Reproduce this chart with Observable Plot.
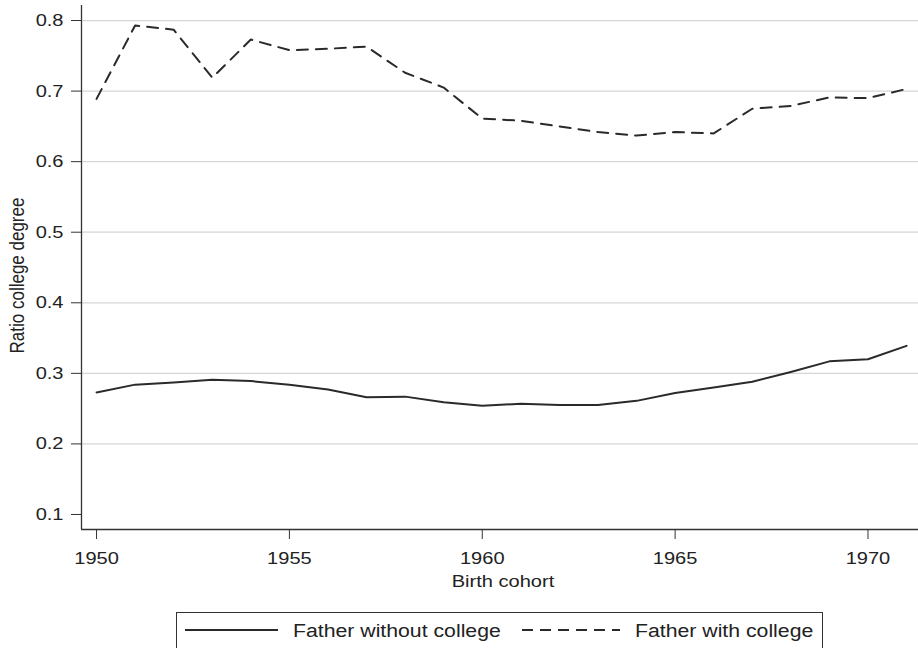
<!DOCTYPE html>
<html>
<head>
<meta charset="utf-8">
<script src="https://cdn.jsdelivr.net/npm/d3@7"></script>
<script src="https://cdn.jsdelivr.net/npm/@observablehq/plot@0.6"></script>
<style>
  html, body { margin: 0; padding: 0; background: #fff; }
  body { width: 918px; height: 648px; overflow: hidden; font-family: "Liberation Sans", Arial, Helvetica, sans-serif; }
  #legend {
    position: relative;
    margin-left: 176px; margin-top: 22px; width: 647px; height: 44px;
    border: 1px solid #333; box-sizing: border-box; color: #222;
  }
  #legend svg { position: absolute; display: block; }
  #legend span {
    position: absolute; display: inline-block; white-space: nowrap;
    font-size: 18px; line-height: 20px; transform: scaleX(1.18); transform-origin: 0 50%;
  }
</style>
</head>
<body>
<div id="chart"></div>
<div id="legend"></div>
<script>
const years = [1950,1951,1952,1953,1954,1955,1956,1957,1958,1959,1960,1961,1962,1963,1964,1965,1966,1967,1968,1969,1970,1971];
const withoutCollege = [0.273,0.284,0.287,0.291,0.289,0.284,0.277,0.266,0.267,0.259,0.254,0.257,0.255,0.255,0.261,0.272,0.280,0.288,0.302,0.317,0.320,0.339];
const withCollege = [0.689,0.793,0.787,0.719,0.773,0.758,0.760,0.763,0.726,0.705,0.661,0.658,0.650,0.642,0.637,0.642,0.640,0.675,0.679,0.691,0.690,0.703];
const seriesNames = ["Father without college", "Father with college"];
const xTicks = [1950, 1955, 1960, 1965, 1970];
const yTicks = [0.1, 0.2, 0.3, 0.4, 0.5, 0.6, 0.7, 0.8];
const gridTicks = [0.2, 0.3, 0.4, 0.5, 0.6, 0.7, 0.8];
const xDomain = [1949.61, 1971.31];
const yDomain = [0.0787, 0.8213];

const rowsA = years.map((y, i) => ({year: y, value: withoutCollege[i], series: seriesNames[0]}));
const rowsB = years.map((y, i) => ({year: y, value: withCollege[i], series: seriesNames[1]}));

const lineColor = "#2a2a2a";
const FS = 17;

const chart = Plot.plot({
  width: 918,
  height: 590,
  marginLeft: 81,
  marginRight: 0,
  marginTop: 5,
  marginBottom: 61,
  style: {fontFamily: "'Liberation Sans', Arial, Helvetica, sans-serif", fontSize: FS + "px", color: "#222", background: "#fff"},
  x: {domain: xDomain},
  y: {domain: yDomain},
  marks: [
    Plot.gridY(gridTicks, {stroke: "#d6d6d6", strokeOpacity: 1, strokeWidth: 1.2}),
    Plot.axisY(yTicks, {tickSize: 10, tickPadding: 8, tickFormat: d3.format(".1f"), label: null, stroke: "#333", fontSize: FS}),
    Plot.axisX(xTicks, {tickSize: 10, tickPadding: 12, tickFormat: d => String(d), label: null, stroke: "#333", fontSize: FS}),
    Plot.ruleX([xDomain[0]], {stroke: "#333", strokeWidth: 1.3}),
    Plot.ruleY([yDomain[0]], {stroke: "#333", strokeWidth: 1.3}),
    Plot.line(rowsA, {x: "year", y: "value", stroke: lineColor, strokeWidth: 2}),
    Plot.line(rowsB, {x: "year", y: "value", stroke: lineColor, strokeWidth: 2, strokeDasharray: "11,8"}),
    Plot.text(["Birth cohort"], {frameAnchor: "bottom", textAnchor: "middle", dx: 3, dy: 57, fontSize: FS, fill: "#222"}),
    Plot.text(["Ratio college degree"], {frameAnchor: "left", textAnchor: "middle", rotate: -90, dx: -64, dy: 8, fontSize: FS, fill: "#222"})
  ]
});
document.getElementById("chart").appendChild(chart);

// Widen glyphs horizontally around each text's anchor, as in the reference typeface
d3.select(chart).selectAll("text").each(function() {
  const t = this.getAttribute("transform") || "";
  if (t.includes("rotate(")) this.setAttribute("transform", t.replace("rotate(", "scale(1.18,1) rotate("));
  else if (t.includes("translate(")) this.setAttribute("transform", t + " scale(1.18,1)");
});

// Legend
const legend = d3.select("#legend");
function addItem(name, dash, swLeft, swW, txtLeft) {
  const s = legend.append("svg").attr("width", swW).attr("height", 12)
    .style("left", swLeft + "px").style("top", "11px");
  s.append("line").attr("x1", 0).attr("x2", swW).attr("y1", 6).attr("y2", 6)
    .attr("stroke", lineColor).attr("stroke-width", 2).attr("stroke-dasharray", dash);
  legend.append("span").style("left", txtLeft + "px").style("top", "8px").text(name);
}
addItem(seriesNames[0], null, 8, 93, 116);
addItem(seriesNames[1], "11,7", 345, 98, 458);
</script>
</body>
</html>
